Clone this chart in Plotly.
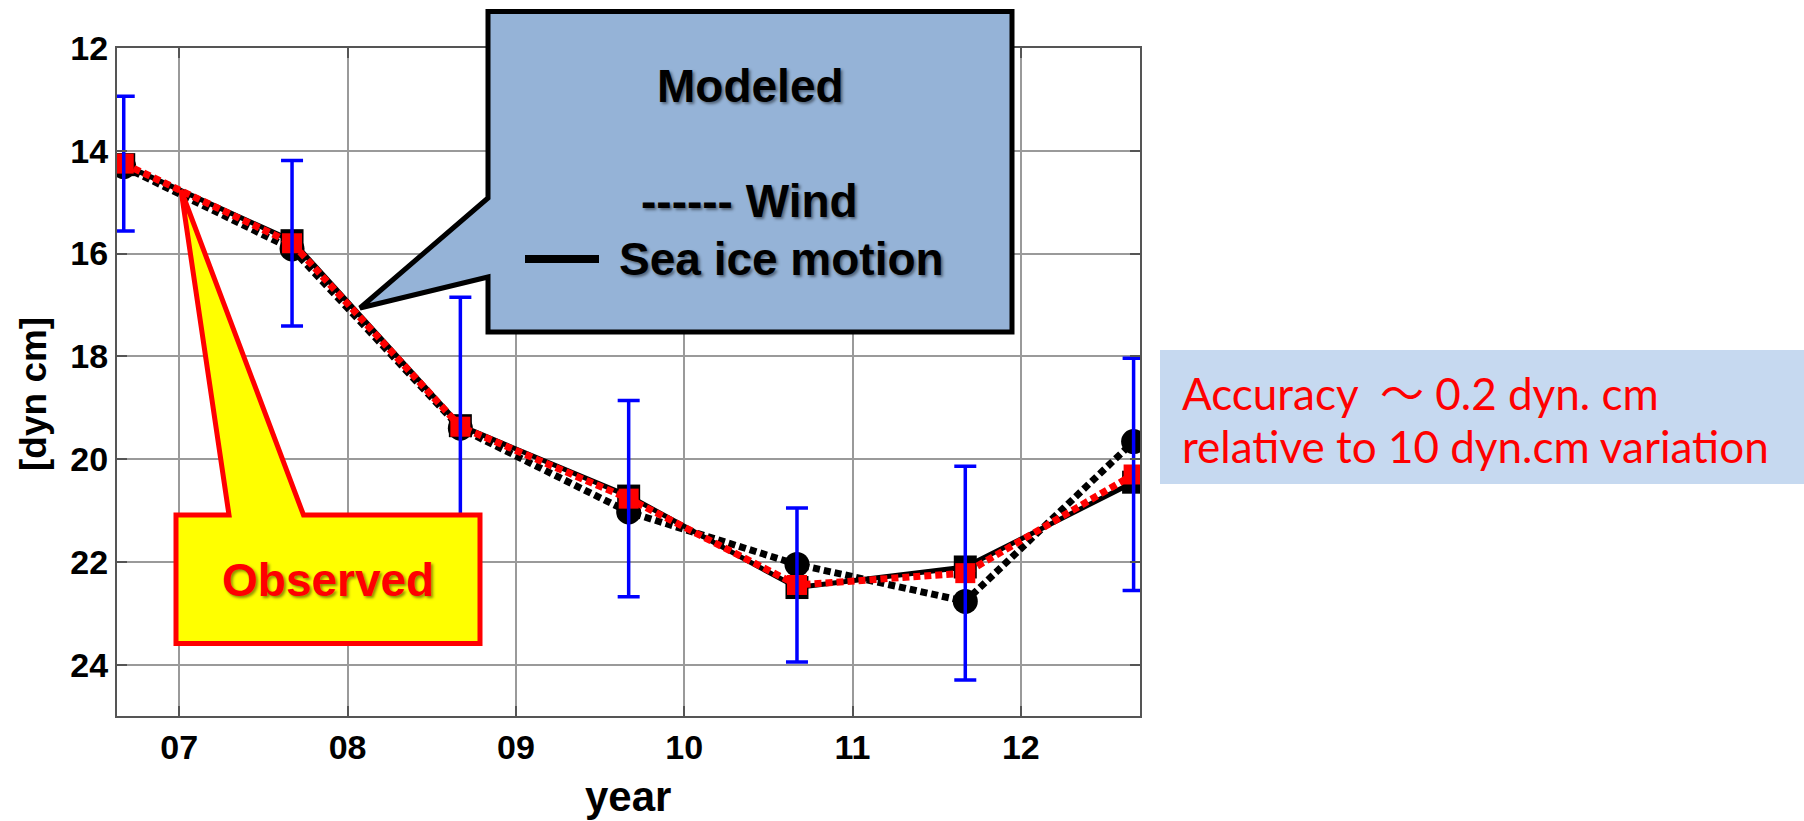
import plotly.graph_objects as go

# Sampling times (fractional years) and dynamic height [dyn cm]
years = [2006.67, 2007.67, 2008.67, 2009.67, 2010.67, 2011.67, 2012.67]
observed = [14.25, 15.80, 19.37, 20.77, 22.45, 22.22, 20.30]
observed_err = [1.31, 1.61, 2.52, 1.91, 1.50, 2.08, 2.26]
modeled_wind = [14.31, 15.91, 19.40, 21.03, 22.05, 22.77, 19.66]
modeled_ice = [14.27, 15.75, 19.35, 20.72, 22.50, 22.10, 20.45]

tick_years = [2007, 2008, 2009, 2010, 2011, 2012]
tick_labels = ["07", "08", "09", "10", "11", "12"]
y_ticks = [12, 14, 16, 18, 20, 22, 24]

FIG_W, FIG_H = 1804, 821
PLOT_L, PLOT_R, PLOT_T, PLOT_B = 117, 1140, 48, 716

BOLD = "Liberation Sans, Arial, sans-serif"
SHADOW = "2px 2px 3px rgba(0,0,0,0.45)"


def px(x):
    """Pixel column -> paper x."""
    return (x - PLOT_L) / (PLOT_R - PLOT_L)


def py(y):
    """Pixel row -> paper y."""
    return (PLOT_B - y) / (PLOT_B - PLOT_T)


def path(points):
    return "M " + " L ".join(f"{px(a):.5f},{py(b):.5f}" for a, b in points) + " Z"


fig = go.Figure()

# Modeled: sea ice motion (solid black)
fig.add_trace(go.Scatter(
    x=years, y=modeled_ice, mode="lines+markers",
    line=dict(color="black", width=5),
    marker=dict(symbol="square", size=23, color="black"),
    name="Sea ice motion",
))
# Modeled: wind (dotted black)
fig.add_trace(go.Scatter(
    x=years, y=modeled_wind, mode="lines+markers",
    line=dict(color="black", width=7, dash="7px,4px"),
    marker=dict(symbol="circle", size=25, color="black"),
    name="Wind",
))
# Observed (dotted red)
fig.add_trace(go.Scatter(
    x=years, y=observed, mode="lines+markers",
    line=dict(color="#FF0000", width=7, dash="7px,4px"),
    marker=dict(symbol="square", size=20, color="#FF0000"),
    name="Observed",
))
# Observation uncertainty
fig.add_trace(go.Scatter(
    x=years, y=observed, mode="markers",
    marker=dict(size=2, opacity=0),
    error_y=dict(type="data", array=observed_err, color="#0000FF",
                 thickness=3.5, width=11),
    hoverinfo="skip", name="error",
))

axis_common = dict(
    showgrid=True, gridcolor="#9a9a9a", gridwidth=1.5,
    showline=True, linecolor="#555555", linewidth=2, mirror="ticks",
    ticks="inside", ticklen=10, tickwidth=1.5, tickcolor="#555555",
    zeroline=False,
    tickfont=dict(family=BOLD, size=34, color="black", weight="bold"),
)

fig.update_layout(
    width=FIG_W, height=FIG_H,
    margin=dict(l=PLOT_L, r=FIG_W - PLOT_R, t=PLOT_T, b=FIG_H - PLOT_B, pad=0),
    paper_bgcolor="white", plot_bgcolor="white",
    showlegend=False,
    xaxis=dict(range=[2006.63, 2012.708], tickvals=tick_years,
               ticktext=tick_labels, **axis_common),
    yaxis=dict(range=[25, 12], tickvals=y_ticks, **axis_common),
)

shapes = [
    # "Modeled" callout
    dict(type="path", xref="paper", yref="paper", layer="above",
         path=path([(488, 11.5), (1012, 11.5), (1012, 332), (488, 332),
                    (488, 277), (360, 308), (488, 198)]),
         fillcolor="#95B3D7", line=dict(color="black", width=5)),
    # "Observed" callout
    dict(type="path", xref="paper", yref="paper", layer="above",
         path=path([(176, 515), (229, 515), (181, 190), (303.5, 515),
                    (480, 515), (480, 643.5), (176, 643.5)]),
         fillcolor="#FFFF00", line=dict(color="#FF0000", width=5)),
    # accuracy note background
    dict(type="rect", xref="paper", yref="paper", layer="above",
         x0=px(1160), x1=px(1804), y0=py(350), y1=py(484),
         fillcolor="#C6D9F0", line=dict(width=0)),
    # solid line sample for sea ice motion
    dict(type="line", xref="paper", yref="paper", layer="above",
         x0=px(525), x1=px(599), y0=py(259), y1=py(259),
         line=dict(color="black", width=8)),
]
fig.update_layout(shapes=shapes)


def label(text, x, y, size, color="black", xanchor="center", shadow=None,
          bold=True, family=BOLD, angle=0):
    font = dict(family=family, size=size, color=color)
    if bold:
        font["weight"] = "bold"
    if shadow:
        font["shadow"] = shadow
    fig.add_annotation(text=text, x=px(x), y=py(y), xref="paper", yref="paper",
                       xanchor=xanchor, yanchor="middle", showarrow=False,
                       font=font, textangle=angle)


label("Modeled", 750, 86, 46, shadow=SHADOW)
label("------ Wind", 749, 201, 46, shadow=SHADOW)
label("Sea ice motion", 617, 259, 46, xanchor="left", shadow=SHADOW)
label("Observed", 328, 580, 46, color="#FF0000", shadow=SHADOW)

NOTE_FONT = "Lato, Carlito, Calibri, sans-serif"
label("Accuracy  <span style='font-family:Noto Sans CJK JP'>～</span> 0.2 dyn. cm",
      1180, 391, 44, color="#FF0000", xanchor="left", bold=False, family=NOTE_FONT)
label("relative to 10 dyn.cm variation", 1180, 446, 44, color="#FF0000",
      xanchor="left", bold=False, family=NOTE_FONT)

label("year", 628, 796, 42)
label("[dyn cm]", 33, 394, 37, angle=-90)

fig.write_html("out.html")
